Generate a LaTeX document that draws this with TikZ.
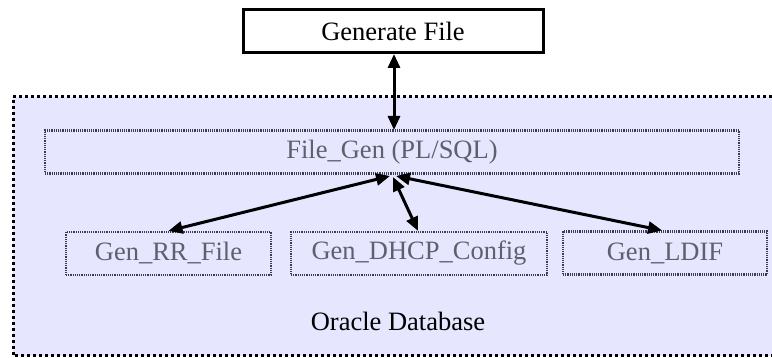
\documentclass[tikz,border=0pt]{standalone}
\usepackage{fontspec}
\setmainfont{Liberation Serif}
\usetikzlibrary{arrows.meta}
\definecolor{lav}{RGB}{230,230,255}
\definecolor{dimtext}{RGB}{95,95,110}
\definecolor{dimline}{RGB}{60,60,80}
\tikzset{
  mainbox/.style={draw=black, line width=3pt, fill=white, minimum width=300pt, minimum height=43pt, inner sep=0pt, font=\fontsize{26.5}{30}\selectfont},
  subbox/.style={draw=dimline, line width=2.2pt, dash pattern=on 1.2pt off 1pt, minimum height=43pt, inner sep=0pt, text=dimtext, font=\fontsize{26.5}{30}\selectfont},
  region/.style={draw=black, line width=3pt, dash pattern=on 3pt off 3pt, fill=lav},
  dbl/.style={line width=3pt, {Triangle[length=14pt,width=12pt]}-{Triangle[length=14pt,width=12pt]}},
  lbl/.style={font=\fontsize{26.5}{30}\selectfont}
}
\begin{document}
\begin{tikzpicture}[x=1pt,y=-1pt]
\useasboundingbox (0,0) rectangle (772,358);
\path[region] (13,97) -- (780,97) -- (780,356) -- (13,356) -- cycle;
\node[mainbox] (gen) at (393,31.5) {Generate File};
\node[subbox, minimum width=694pt] (filegen) at (392,152) {File\_Gen (PL/SQL)};
\node[subbox, minimum width=205pt] (rr) at (168.5,253.5) {Gen\_RR\_File};
\node[subbox, minimum width=256pt] (dhcp) at (419,253.5) {Gen\_DHCP\_Config};
\node[subbox, minimum width=204pt] (ldif) at (665,253) {Gen\_LDIF};
\node[lbl] (oracle) at (398,321) {Oracle Database};
\coordinate (top) at (394,54);
\coordinate (topend) at (394,130);
\draw[dbl] (top) -- (topend);
\coordinate (hubA) at (390,176);
\coordinate (hubB) at (393,177);
\coordinate (hubC) at (396,176);
\draw[dbl] (hubA) -- (rr.north);
\draw[dbl] (hubB) -- ([xshift=-1pt]dhcp.north);
\draw[dbl] (hubC) -- ([xshift=-3pt]ldif.north);
\end{tikzpicture}
\end{document}
